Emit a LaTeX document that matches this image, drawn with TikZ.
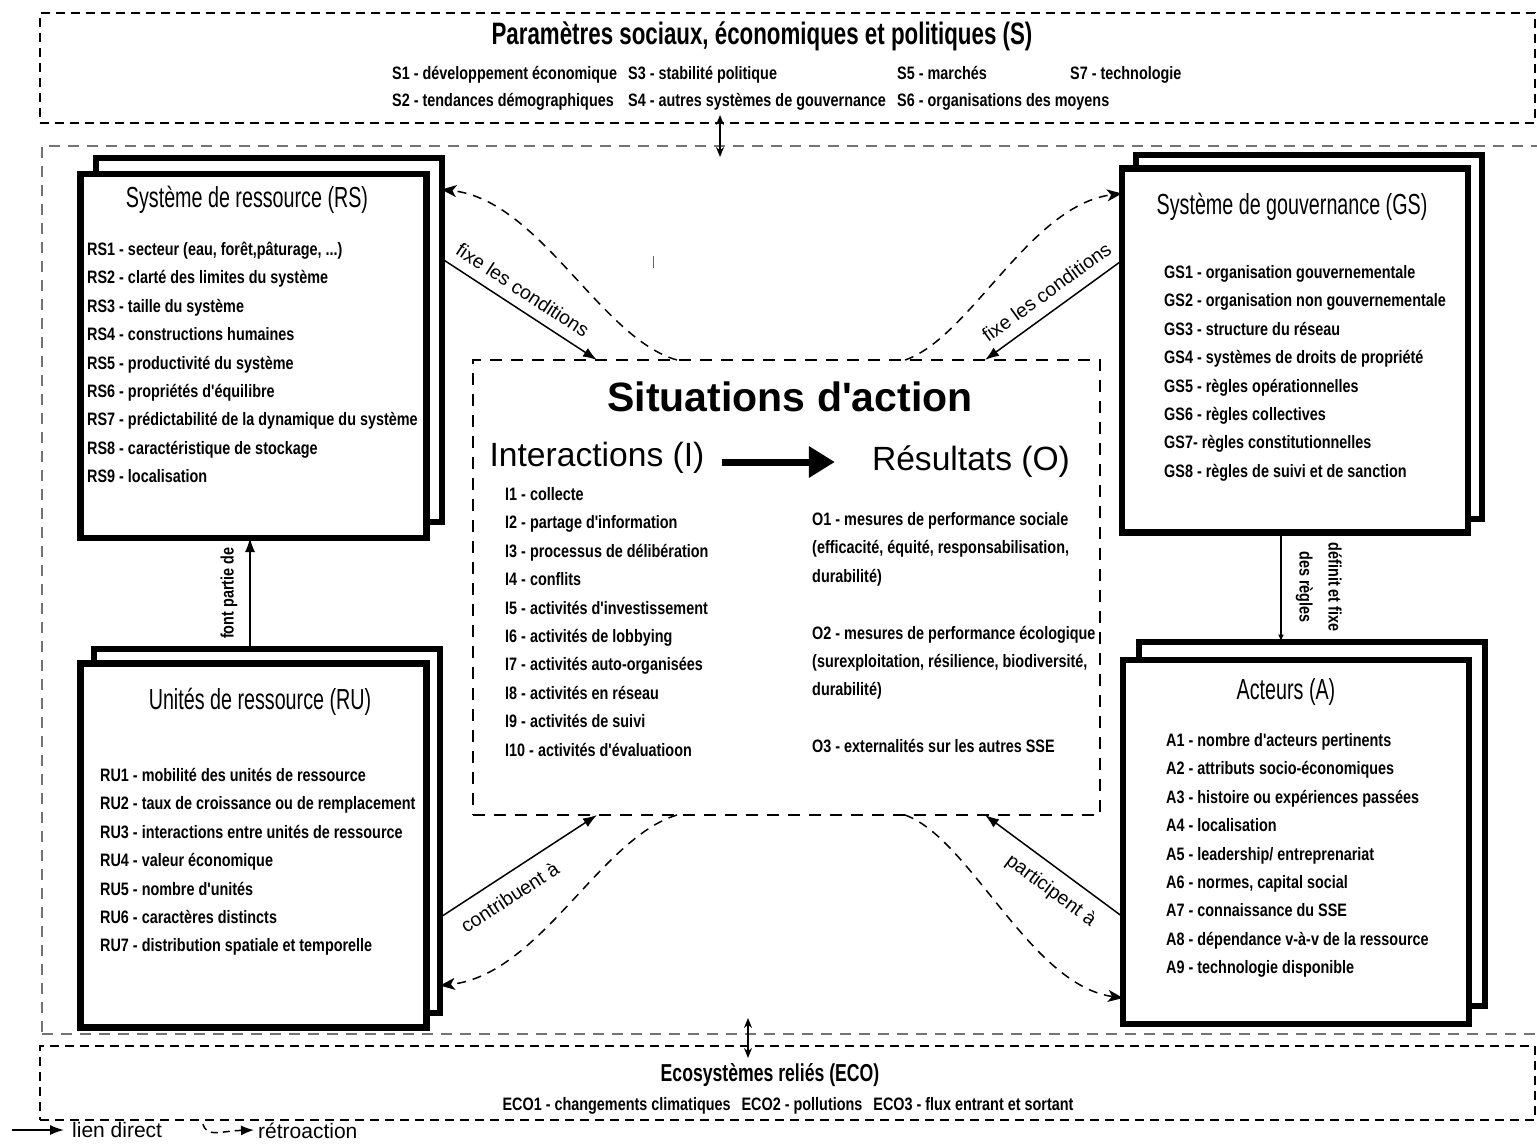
\documentclass[tikz,border=0pt]{standalone}
\usepackage{fontspec}
\setmainfont{Liberation Sans}
\newfontfamily\reg{Liberation Sans}
\newfontfamily\nb[FakeStretch=0.8]{Liberation Sans}
\newfontfamily\nc[FakeStretch=0.72]{Liberation Sans}
\newfontfamily\nt[FakeStretch=0.68]{Liberation Sans}
\usetikzlibrary{arrows.meta,calc}
\newcommand\threedots{...}
\begin{document}
\begin{tikzpicture}[x=1pt,y=-1pt,
  frontbox/.style={draw, line width=6.5pt, fill=white, minimum width=346pt, minimum height=364pt, inner sep=0pt, outer sep=0pt},
  backbox/.style={draw, line width=6pt, fill=white, minimum width=346pt, minimum height=364pt, inner sep=0pt, outer sep=0pt},
  sdash/.style={draw, line width=1.5pt, dash pattern=on 9pt off 6pt, inner sep=0pt, outer sep=0pt},
  cdash/.style={draw=black!55, line width=2.5pt, dash pattern=on 11pt off 8pt, inner sep=0pt, outer sep=0pt},
  sitdash/.style={draw, line width=1.5pt, dash pattern=on 12pt off 9pt, inner sep=0pt, outer sep=0pt},
  itm/.style={font=\nb\bfseries\fontsize{18}{20}\selectfont, anchor=base west, inner sep=0pt},
  ttl/.style={font=\nt\fontsize{29}{32}\selectfont, inner sep=0pt},
  lbl/.style={font=\reg\fontsize{19.5}{22}\selectfont},
  conn/.style={line width=1.5pt, -{Latex[length=14pt,width=10pt]}},
  dbl/.style={line width=1.5pt, {Stealth[length=10pt,width=8pt]}-{Stealth[length=10pt,width=8pt]}},
  fback/.style={line width=1.5pt, dash pattern=on 9pt off 7pt, -{Stealth[length=15pt,width=12pt,inset=4pt]}},
]
\useasboundingbox (0,0) rectangle (1537,1144);

% ---------- outer dashed frames ----------
\node[cdash, minimum width=1503pt, minimum height=888pt] (central) at (793.5,590) {};
\node[sdash, minimum width=1495pt, minimum height=110pt, fill=white] (sbox) at (787.5,68) {};
\node[sdash, minimum width=1495pt, minimum height=74pt] (eco) at (787.5,1083) {};

% ---------- S box text ----------
\node[font=\nc\bfseries\fontsize{31}{33}\selectfont, inner sep=0pt] (stitle) at (762,36) {Paramètres sociaux, économiques et politiques (S)};
\node[itm] (s1) at (392,79.5) {S1 - développement économique};
\node[itm] (s2) at (392,106.5) {S2 - tendances démographiques};
\node[itm] (s3) at (628,79.5) {S3 - stabilité politique};
\node[itm] (s4) at (628,106.5) {S4 - autres systèmes de gouvernance};
\node[itm] (s5) at (897,79.5) {S5 - marchés};
\node[itm] (s6) at (897,106.5) {S6 - organisations des moyens};
\node[itm] (s7) at (1070,79.5) {S7 - technologie};

% ---------- ECO box text ----------
\node[font=\nc\bfseries\fontsize{24.5}{26}\selectfont, inner sep=0pt] (ecotitle) at (770,1075) {Ecosystèmes reliés (ECO)};
\node[font=\nb\bfseries\fontsize{18}{20}\selectfont, inner sep=0pt] (ecoitems) at (788,1106) {ECO1 - changements climatiques\hspace{7pt} ECO2 - pollutions\hspace{7pt} ECO3 - flux entrant et sortant};

% ---------- double arrows ----------
\coordinate (ta1) at (720,115);
\coordinate (ta2) at (720,157);
\draw[dbl] (ta1) -- (ta2);
\coordinate (ba1) at (748,1018);
\coordinate (ba2) at (748,1058);
\draw[dbl] (ba1) -- (ba2);

% ---------- four boxes ----------
\node[backbox] (rsb) at (268.5,339.5) {};
\node[frontbox] (rsf) at (253.5,356) {};
\node[backbox] (gsb) at (1309,336.5) {};
\node[frontbox] (gsf) at (1295,350.5) {};
\node[backbox] (rub) at (267,830.5) {};
\node[frontbox] (ruf) at (253.5,845.5) {};
\node[backbox] (ab) at (1312,823.5) {};
\node[frontbox] (af) at (1296,842) {};

% titles
\node[ttl] (rstitle) at (247,200) {Système de ressource (RS)};
\node[ttl] (gstitle) at (1292,207) {Système de gouvernance (GS)};
\node[ttl] (rutitle) at (260,702) {Unités de ressource (RU)};
\node[ttl] (atitle) at (1286,692) {Acteurs (A)};

% RS items
\node[itm] (rs1) at (87,255.5) {RS1 - secteur (eau, forêt,pâturage, \threedots)};
\foreach \t [count=\i from 2] in {{RS2 - clarté des limites du système},{RS3 - taille du système},{RS4 - constructions humaines},{RS5 - productivité du système},{RS6 - propriétés d'équilibre},{RS7 - prédictabilité de la dynamique du système},{RS8 - caractéristique de stockage},{RS9 - localisation}}
  \node[itm] (rs\i) at (87,{255.5+28.4*(\i-1)}) {\t};

% GS items
\foreach \t [count=\i] in {{GS1 - organisation gouvernementale},{GS2 - organisation non gouvernementale},{GS3 - structure du réseau},{GS4 - systèmes de droits de propriété},{GS5 - règles opérationnelles},{GS6 - règles collectives},{GS7- règles constitutionnelles},{GS8 - règles de suivi et de sanction}}
  \node[itm] (gs\i) at (1164,{278.5+28.4*(\i-1)}) {\t};

% RU items
\foreach \t [count=\i] in {{RU1 - mobilité des unités de ressource},{RU2 - taux de croissance ou de remplacement},{RU3 - interactions entre unités de ressource},{RU4 - valeur économique},{RU5 - nombre d'unités},{RU6 - caractères distincts},{RU7 - distribution spatiale et temporelle}}
  \node[itm] (ru\i) at (100,{781.5+28.4*(\i-1)}) {\t};

% A items
\foreach \t [count=\i] in {{A1 - nombre d'acteurs pertinents},{A2 - attributs socio-économiques},{A3 - histoire ou expériences passées},{A4 - localisation},{A5 - leadership/ entreprenariat},{A6 - normes, capital social},{A7 - connaissance du SSE},{A8 - dépendance v-à-v de la ressource},{A9 - technologie disponible}}
  \node[itm] (a\i) at (1166,{746.5+28.4*(\i-1)}) {\t};

% ---------- action situations ----------
\node[sitdash, minimum width=627pt, minimum height=455pt] (sit) at (786.5,587.5) {};
\node[font=\reg\bfseries\fontsize{41}{44}\selectfont, inner sep=0pt] (sittitle) at (790,397) {Situations d'action};
\node[font=\reg\fontsize{33.6}{36}\selectfont, inner sep=0pt] (inter) at (597,458) {Interactions (I)};
\node[font=\reg\fontsize{33.6}{36}\selectfont, inner sep=0pt] (resu) at (971,462) {Résultats (O)};
\draw[line width=7pt, -{Triangle[length=26pt,width=30pt]}] ([xshift=17pt,yshift=-4pt]inter.east) -- ([xshift=-37pt]resu.west);

\foreach \t [count=\i] in {{I1 - collecte},{I2 - partage d'information},{I3 - processus de délibération},{I4 - conflits},{I5 - activités d'investissement},{I6 - activités de lobbying},{I7 - activités auto-organisées},{I8 - activités en réseau},{I9 - activités de suivi},{I10 - activités d'évaluatioon}}
  \node[itm] (i\i) at (505,{500.5+28.4*(\i-1)}) {\t};

\foreach \t/\k [count=\i] in {{O1 - mesures de performance sociale}/0,{(efficacité, équité, responsabilisation,}/1,{durabilité)}/2,{O2 - mesures de performance écologique}/4,{(surexploitation, résilience, biodiversité,}/5,{durabilité)}/6,{O3 - externalités sur les autres SSE}/8}
  \node[itm] (o\i) at (812,{525.5+28.4*\k}) {\t};

% small stray tick
\draw[line width=1pt, black!60] (653,256) -- (653,268);

% ---------- connectors ----------
\draw[conn] ([yshift=81pt]rsb.east) -- node[lbl, sloped, above, pos=0.46, inner sep=10pt] {fixe les conditions} ([xshift=124pt]sit.north west);
\draw[fback] ([xshift=204pt]sit.north west) .. controls (600,338) and (540,200) .. ([yshift=150pt]rsb.east);

\draw[conn] ([yshift=90pt]gsf.west) -- node[lbl, sloped, above, pos=0.47, inner sep=11pt] {fixe les conditions} ([xshift=-115pt]sit.north east);
\draw[fback] ([xshift=-195pt]sit.north east) .. controls (970,338) and (1030,205) .. ([yshift=157pt]gsf.west);

\draw[conn] ([yshift=-87pt]rub.east) -- node[lbl, sloped, below, pos=0.37, inner sep=13pt] {contribuent à} ([xshift=124pt]sit.south west);
\draw[fback] ([xshift=204pt]sit.south west) .. controls (600,838) and (540,975) .. ([yshift=-155pt]rub.east);

\draw[conn] ([yshift=-75pt]af.west) -- node[lbl, sloped, below, pos=0.43, inner sep=12pt] {participent à} ([xshift=-115pt]sit.south east);
\draw[fback] ([xshift=-195pt]sit.south east) .. controls (970,838) and (1030,985) .. ([yshift=-156pt]af.west);

\draw[line width=1.5pt, -{Latex[length=7pt,width=6pt]}] ([xshift=-14pt]gsf.south) -- ([xshift=-14pt]gsf.south |- ab.north)
  node[midway, rotate=-90, anchor=south, align=center, inner sep=14pt, font=\nb\bfseries\fontsize{18}{29}\selectfont] {définit et fixe\\des règles};

\draw[conn] ([xshift=-17pt]rub.north) -- ([xshift=-17pt]rub.north |- rsf.south)
  node[midway, rotate=90, anchor=south, inner sep=12pt, font=\nb\bfseries\fontsize{18}{20}\selectfont] {font partie de};

% ---------- legend ----------
\coordinate (l1) at (12,1130);
\coordinate (l2) at (64,1130);
\draw[conn] (l1) -- (l2);
\node[font=\reg\fontsize{21}{23}\selectfont, anchor=west, inner sep=0pt] (lg1) at (72,1130) {lien direct};
\coordinate (l3) at (203,1124);
\coordinate (l4) at (254,1130);
\draw[line width=1.5pt, dash pattern=on 7pt off 5pt, -{Latex[length=13pt,width=10pt]}] (l3) .. controls (207,1138) and (220,1131) .. (l4);
\node[font=\reg\fontsize{21}{23}\selectfont, anchor=west, inner sep=0pt] (lg2) at (258,1131) {rétroaction};
\end{tikzpicture}
\end{document}
